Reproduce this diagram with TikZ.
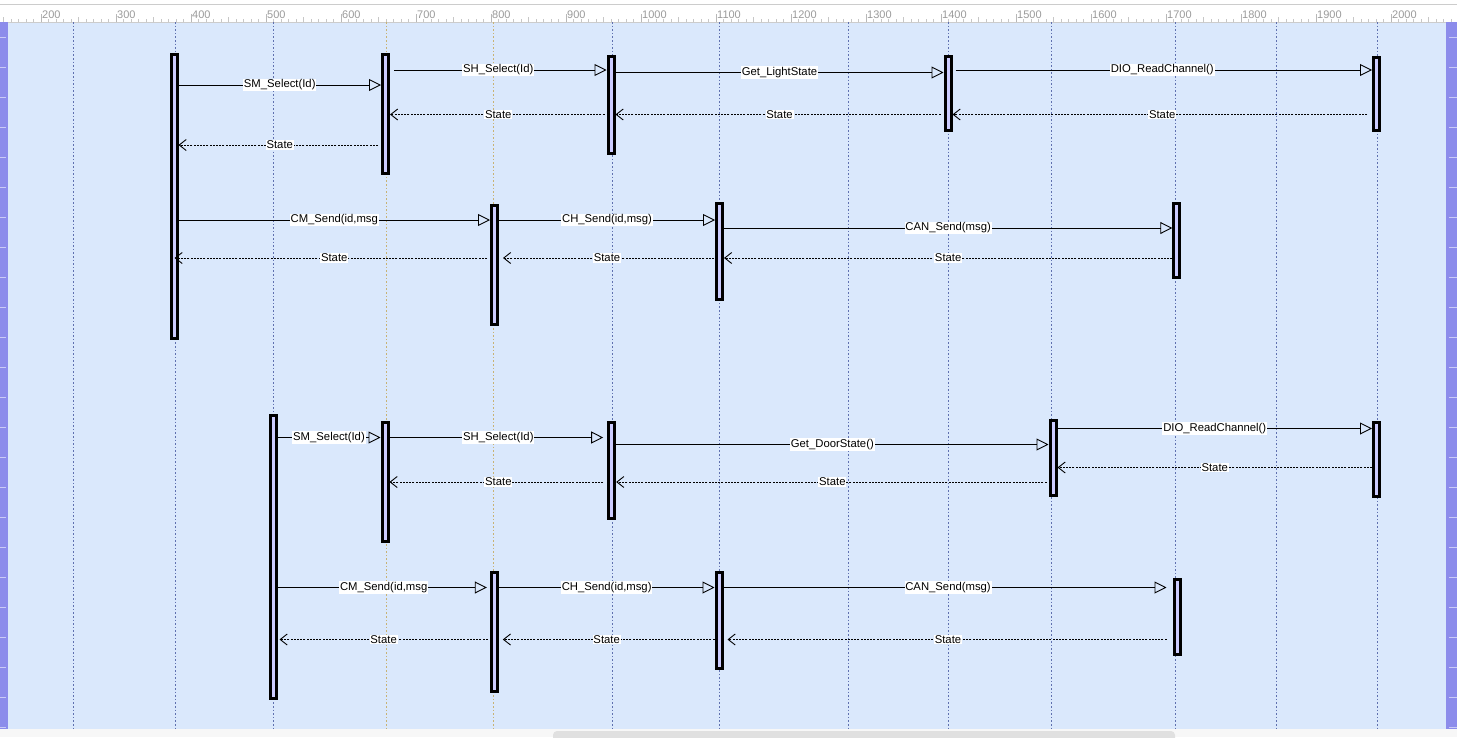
\documentclass[tikz,border=0pt]{standalone}
\usepackage{fontspec}
\setmainfont{Liberation Sans}
\usetikzlibrary{arrows.meta}
\definecolor{canvas}{HTML}{DAE8FC}
\definecolor{barfill}{HTML}{CCCCFF}
\definecolor{lifeblue}{RGB}{95,112,175}
\definecolor{lifetan}{RGB}{200,178,115}
\definecolor{rulergray}{RGB}{155,155,155}
\definecolor{sidebar}{RGB}{140,140,235}

\tikzset{
  bar/.style={draw, line width=3pt, fill=barfill, minimum width=6pt, inner sep=0pt, anchor=north},
  call/.style={line width=0.9pt, -{Triangle[open, length=12pt, width=12pt]}},
  ret/.style={line width=0.9pt, dash pattern=on 2pt off 1.2pt, -{Straight Barb[length=7pt, width=11pt]}},
  lbl/.style={fill=white, inner sep=0.8pt, font=\fontsize{11.3}{13}\selectfont, midway},
  lifeline/.style={line width=1pt, dash pattern=on 1.6pt off 2pt},
}

\begin{document}
\begin{tikzpicture}[x=1pt, y=-1pt]
    \useasboundingbox (0,0) rectangle (1457,737);

    % Editor frame
    \fill[white] (0,0) rectangle (1457,737);
    \fill[canvas] (0,22) rectangle (1457,728.5);
    \fill[black!3] (0,728.5) rectangle (1457,737);
    \fill[black!12, rounded corners=4pt] (553,731) rectangle (1175,744);

    % Ruler
    \draw[black!20] (0,4.3) -- (1457,4.3);
    \draw[black!20] (0,22) -- (1457,22);
    \foreach \u in {150,160,...,2080}
        \draw[black!22] ({41+(\u-200)*0.75},22) -- ++(0,-3);
    \foreach \u in {150,250,...,2050}
        \draw[black!22] ({41+(\u-200)*0.75},22) -- ++(0,-5);
    \foreach \u in {200,300,...,2000} {
        \draw[black!28] ({41+(\u-200)*0.75},22) -- ++(0,-8);
        \node[rulergray, anchor=west, inner sep=1pt, font=\fontsize{11}{12}\selectfont] (r\u) at ({41+(\u-200)*0.75},15) {\u};
    }

    % Side strips
    \fill[sidebar] (0,22) rectangle (8,728.5);
    \fill[sidebar] (1446,22) rectangle (1457,728.5);
    \foreach \y in {37,67,...,727} {
        \draw[white!55!sidebar] (0,\y) -- (6,\y);
        \draw[white!55!sidebar] (1449,\y) -- (1457,\y);
    }

    % Lifelines
    \foreach \x in {73,175,273,612,719,848,948,1051,1175,1276,1377}
        \draw[lifeblue, lifeline] (\x,22) -- (\x,728.5);
    \foreach \x in {386,493}
        \draw[lifetan, lifeline] (\x,22) -- (\x,728.5);

    % Activation bars, first sequence
    \node[bar, minimum height=284pt] (app1) at (174,53) {};
    \node[bar, minimum height=119pt] (sm1) at (385.5,53) {};
    \node[bar, minimum height=97pt] (sh1) at (611,55) {};
    \node[bar, minimum height=74pt] (light) at (948,55) {};
    \node[bar, minimum height=73pt] (dio1) at (1376.5,56) {};
    \node[bar, minimum height=119pt] (cm1) at (494.5,203.5) {};
    \node[bar, minimum height=95.5pt] (ch1) at (719.5,202.3) {};
    \node[bar, minimum height=73.5pt] (can1) at (1176.8,202.3) {};

    % Activation bars, second sequence
    \node[bar, minimum height=283pt] (app2) at (273,414) {};
    \node[bar, minimum height=119pt] (sm2) at (385,421) {};
    \node[bar, minimum height=96pt] (sh2) at (611.7,421) {};
    \node[bar, minimum height=74.2pt] (door) at (1053,419.3) {};
    \node[bar, minimum height=74pt] (dio2) at (1376.5,421) {};
    \node[bar, minimum height=118.5pt] (cm2) at (494.3,571) {};
    \node[bar, minimum height=96pt] (ch2) at (719,571) {};
    \node[bar, minimum height=74.5pt] (can2) at (1177,578.3) {};

    % Light state request
    \draw[call] (app1.east |- 0,85) -- (sm1.west |- 0,85) node[lbl] {SM\_Select(Id)};
    \draw[call, shorten <=4pt] (sm1.east |- 0,70) -- (sh1.west |- 0,70) node[lbl] {SH\_Select(Id)};
    \draw[call] (sh1.east |- 0,72.5) -- (light.west |- 0,72.5) node[lbl] {Get\_LightState};
    \draw[call, shorten <=3pt] (light.east |- 0,70) -- (dio1.west |- 0,70) node[lbl] {DIO\_ReadChannel()};
    \draw[ret, shorten <=5pt] (dio1.west |- 0,114.5) -- (light.east |- 0,114.5) node[lbl] {State};
    \draw[ret, shorten <=3pt] (light.west |- 0,114.5) -- (sh1.east |- 0,114.5) node[lbl] {State};
    \draw[ret, shorten <=2pt] (sh1.west |- 0,114.5) -- (sm1.east |- 0,114.5) node[lbl] {State};
    \draw[ret, shorten <=3pt] (sm1.west |- 0,145) -- (app1.east |- 0,145) node[lbl] {State};

    % Light state message
    \draw[call] (app1.east |- 0,220) -- (cm1.west |- 0,220) node[lbl] {CM\_Send(id,msg};
    \draw[call] (cm1.east |- 0,220) -- (ch1.west |- 0,220) node[lbl] {CH\_Send(id,msg)};
    \draw[call] (ch1.east |- 0,228) -- (can1.west |- 0,228) node[lbl] {CAN\_Send(msg)};
    \draw[ret] (can1.west |- 0,258) -- (ch1.east |- 0,258) node[lbl] {State};
    \draw[ret, shorten <=1pt, shorten >=4pt] (ch1.west |- 0,258) -- (cm1.east |- 0,258) node[lbl] {State};
    \draw[ret, shorten <=3pt, shorten >=-4pt] (cm1.west |- 0,258) -- (app1.east |- 0,258) node[lbl] {State};

    % Door state request
    \draw[call] (app2.east |- 0,437.5) -- (sm2.west |- 0,437.5) node[lbl] {SM\_Select(Id)};
    \draw[call, shorten >=4pt] (sm2.east |- 0,437.5) -- (sh2.west |- 0,437.5) node[lbl] {SH\_Select(Id)};
    \draw[call] (sh2.east |- 0,444.5) -- (door.west |- 0,444.5) node[lbl] {Get\_DoorState()};
    \draw[call] (door.east |- 0,428.5) -- (dio2.west |- 0,428.5) node[lbl] {DIO\_ReadChannel()};
    \draw[ret] (dio2.west |- 0,467.5) -- (door.east |- 0,467.5) node[lbl] {State};
    \draw[ret, shorten <=2pt] (door.west |- 0,482) -- (sh2.east |- 0,482) node[lbl] {State};
    \draw[ret, shorten <=4pt] (sh2.west |- 0,482) -- (sm2.east |- 0,482) node[lbl] {State};

    % Door state message
    \draw[call, shorten >=3pt] (app2.east |- 0,587.5) -- (cm2.west |- 0,587.5) node[lbl] {CM\_Send(id,msg};
    \draw[call] (cm2.east |- 0,587.5) -- (ch2.west |- 0,587.5) node[lbl] {CH\_Send(id,msg)};
    \draw[call, shorten >=6pt] (ch2.east |- 0,587.5) -- (can2.west |- 0,587.5) node[lbl] {CAN\_Send(msg)};
    \draw[ret, shorten <=6pt, shorten >=4pt] (can2.west |- 0,639.5) -- (ch2.east |- 0,639.5) node[lbl] {State};
    \draw[ret, shorten >=4pt] (ch2.west |- 0,639.5) -- (cm2.east |- 0,639.5) node[lbl] {State};
    \draw[ret, shorten <=2pt, shorten >=2pt] (cm2.west |- 0,639.5) -- (app2.east |- 0,639.5) node[lbl] {State};
\end{tikzpicture}
\end{document}
